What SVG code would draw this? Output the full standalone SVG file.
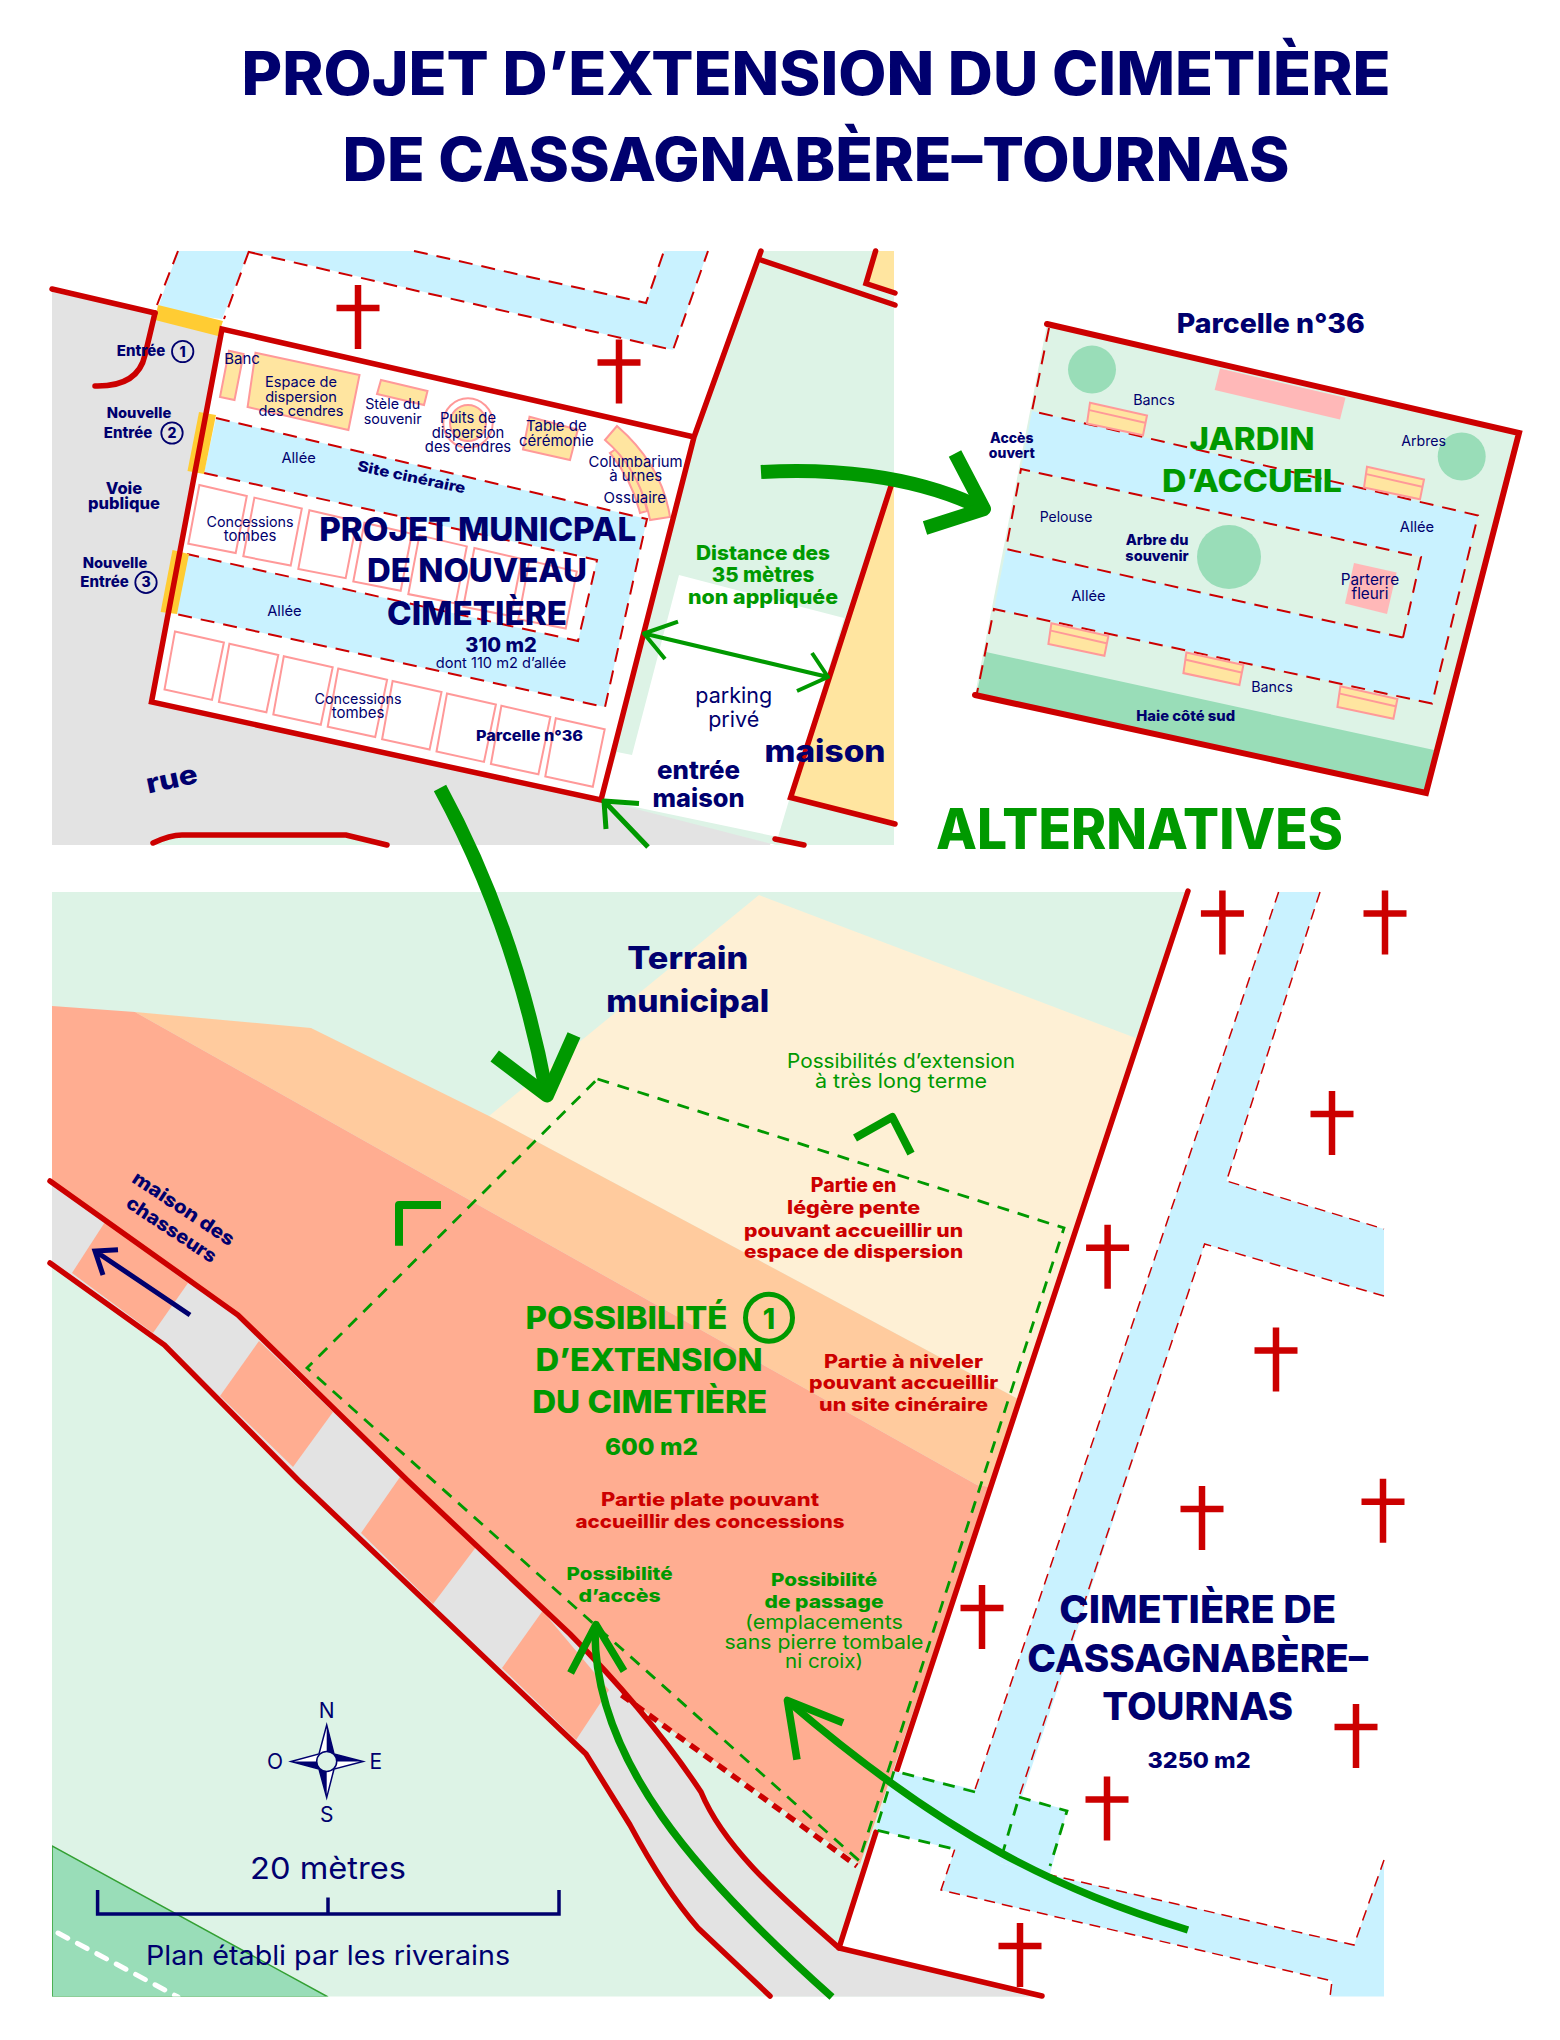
<svg xmlns="http://www.w3.org/2000/svg" xmlns:xlink="http://www.w3.org/1999/xlink" width="1560" height="2040" viewBox="0 0 1560 2040">
<style>
text{font-family:"Inter","Noto Sans",sans-serif;text-anchor:middle;fill:#00006e}
.b{font-weight:800}
.g{fill:#009900}
.r{fill:#cc0000}
.red{fill:none;stroke:#cc0000;stroke-width:5.5;stroke-linecap:round;stroke-linejoin:miter}
.dr{fill:none;stroke:#cc0000;stroke-width:2;stroke-dasharray:14 9}
.drt{fill:none;stroke:#cc0000;stroke-width:1.5;stroke-dasharray:11 7}
.dg{fill:none;stroke:#009900;stroke-width:2.8;stroke-dasharray:12 9}
.ar{fill:none;stroke:#009900;stroke-linejoin:round}
.box{fill:#ffffff;stroke:#ff9999;stroke-width:2}
.ye{fill:#ffe5a0;stroke:#ff9999;stroke-width:2}
.lg{fill:#ddf3e6}
.dk{fill:#99ddb8}
.bl{fill:#c9f2ff}
.gy{fill:#e3e3e3}
.en{fill:#ffcc33}
.pk{fill:#ffb8b8}
.cr{fill:none;stroke:#cc0000;stroke-width:6.5}
.nv{fill:none;stroke:#00006e}
</style>
<defs>
<path id="cross" class="cr" d="M0,-23V41M-21.500,0H21.500"/>
<polygon id="ct" class="box" points="199.400,485 246.800,496 235.700,553 188.300,543.700"/>
<polygon id="cb" class="box" points="175,631.400 223.900,642.500 212,699.900 164.500,689.600"/>
<g id="bench"><polygon class="ye" points="0,0 57,12.600 53,32.500 -3,20.600"/><path class="ye" d="M-.5,7.300L55,20"/></g>
<clipPath id="ct1"><rect x="52" y="251" width="842" height="594"/></clipPath>
<clipPath id="ct2"><rect x="52" y="892" width="1332" height="1104.500"/></clipPath>
</defs>

<g id="plan-haut-fonds" clip-path="url(#ct1)">
<polygon class="gy" points="52,292 157,314 222,327 601,800 773,838 770,845 52,845"/>
<polygon class="lg" points="761,251 894,251 894,845 776,845 601,800 694,437"/>
<polygon fill="#ffffff" points="679,575 844,618 790,797 778,837 602,800 617,752 632,755"/>
<polygon fill="#ffe5a0" points="894,483 894,825 790,797"/>
<polygon fill="#ffe5a0" points="875,251 894,251 894,293 866,283"/>
<polygon class="lg" points="151,845 182,836 346,836 387,845"/>
<polygon class="bl" points="178,251 249,251 222,319 157,311"/>
<polygon class="bl" points="249,251 414,251 646,303 664,251 708,251 673,350"/>
<polygon fill="#ffffff" points="222,329 694,437 601,800 151.500,702"/>
<polygon class="bl" points="216,418 647,519 605,707 176,614 187,554 578,641 597,560 204,473"/>
</g>

<g id="parcelle-36">
<use xlink:href="#ct"/><use xlink:href="#ct" x="55" y="12.600"/><use xlink:href="#ct" x="110" y="25.200"/><use xlink:href="#ct" x="165" y="37.800"/><use xlink:href="#ct" x="220" y="50.400"/><use xlink:href="#ct" x="275" y="63"/><use xlink:href="#ct" x="330" y="75.600"/>
<use xlink:href="#cb"/><use xlink:href="#cb" x="54.400" y="12.400"/><use xlink:href="#cb" x="108.800" y="24.800"/><use xlink:href="#cb" x="163.200" y="37.200"/><use xlink:href="#cb" x="217.600" y="49.600"/><use xlink:href="#cb" x="272" y="62"/><use xlink:href="#cb" x="326.400" y="74.400"/><use xlink:href="#cb" x="380.800" y="86.800"/>
<polygon class="ye" points="229,350.700 243.600,354 234.500,400 220,397"/>
<polygon class="ye" points="255.500,352.700 359.500,375 348.400,430 247.600,407"/>
<polygon class="ye" points="381,380 427.500,391 424,405 377,394"/>
<circle cx="468" cy="423" r="24.700" fill="#ffffff" stroke="#ff9999" stroke-width="2"/>
<circle cx="468" cy="423" r="18" class="ye"/>
<polygon class="ye" points="529.500,416.700 577.800,429.800 570,460 523,449.600"/>
<path class="ye" d="M616,449L610,453Q632,480 640,513L647,511Q640,475 616,449Z"/>
<path class="ye" d="M617,426Q662,465 670,517L650,520Q640,470 605,440Z"/>
</g>

<g id="traits-haut">
<path class="dr" d="M178,251L157,305M249,251L224,319M249,252L673,350L708,251M414,251L646,303L664,251"/>
<path class="dr" d="M216,418L647,519L605,707L176,614M204,473L597,560L578,641L187,554"/>
<polygon class="en" points="158,305 223,321 218,336 155,320"/>
<polygon class="en" points="199,412 216,415 204,474 187.500,471"/>
<polygon class="en" points="172.500,550 189,554 177,614 160.600,612"/>
<path class="red" d="M52,289L155,313M694,437L222,329L151.500,702L601,800L694,437L761,251"/>
<path class="red" d="M155,313L145,355Q138,387 95,386"/>
<path class="red" d="M761,260L895,305M875.600,251L866,283.500L895,293"/>
<path class="red" d="M891,486L790.600,797.500L895,824"/>
<path class="red" d="M153,843Q170,835 182,835H346L387,845M775,839L804,845"/>
<use xlink:href="#cross" x="358" y="308"/>
<use xlink:href="#cross" x="619" y="362.500"/>
</g>

<g id="jardin">
<polygon class="lg" points="1047,324 1519,433 1426,793 975,695"/>
<polygon class="bl" points="1032,411 1478,515.500 1432,703.600 994,609 1006,549 1403,637.600 1421,557 1021,469"/>
<polygon class="dk" points="986,652 1434,750 1426,791 976.600,693"/>
<circle class="dk" cx="1092" cy="369.600" r="24"/>
<circle class="dk" cx="1461.700" cy="456.500" r="24"/>
<circle class="dk" cx="1229" cy="557" r="32"/>
<polygon class="pk" points="1220,368.600 1345.500,397.800 1340,419.400 1214.600,390"/>
<polygon class="pk" points="1354,563 1396.600,572.600 1387,614 1345,603.400"/>
<path class="dr" d="M1049,328L1032,411L1478,515.500L1432,703.600L994,609L977,693M1403,637.600L1421,557L1021,469L1006,549L1403,637.600"/>
<use xlink:href="#bench" x="1090" y="402.800"/>
<use xlink:href="#bench" x="1367" y="466.800"/>
<use xlink:href="#bench" x="1051.400" y="623.300"/>
<use xlink:href="#bench" x="1186.400" y="652.500"/>
<use xlink:href="#bench" x="1340.400" y="686.300"/>
<path class="red" style="stroke-width:6" d="M1047,324L1519,433L1426,793L975,695"/>
</g>

<g id="plan-bas-fonds" clip-path="url(#ct2)">
<polygon class="lg" points="52,892 1188,892 839,1948 1042,1997 52,1997"/>
<polygon class="dk" stroke="#33a033" stroke-width="1.500" points="52,1846 328,1997 52,1997"/>
<path fill="none" stroke="#ffffff" stroke-width="5" stroke-dasharray="11 11" stroke-linecap="round" d="M58,1933L178,1997"/>
<polygon fill="#fef0d5" points="759,895 1135.700,1038 1020,1400 489,1116"/>
<polygon fill="#ffcb9e" points="135,1012 311,1028 489,1116 1020,1400 990,1487 977,1485"/>
<polygon fill="#ffad91" points="52,1006 135,1012 977,1485 990,1487 893,1771 860,1864 622,1695 581,1645 407,1480 238,1315 50,1180"/>
<path class="gy" d="M50,1181L238,1315L407,1480L570,1634Q650,1715 701,1792C725,1850 785,1900 839,1948L1042,1997H770L698,1928Q665,1890 630,1825L586,1754L298,1480L164.500,1345L50,1263Z"/>
<polygon fill="#ffad91" points="105,1222 188,1283 153,1333 72,1273"/>
<polygon fill="#ffad91" points="259,1341 333,1412 293,1467 220,1396"/>
<polygon fill="#ffad91" points="400,1477 476,1547 433,1604 361,1533"/>
<polygon fill="#ffad91" points="542.500,1611 609,1690 576,1740 502,1668"/>
<polygon class="bl" points="1278.600,892 1320,892 1226.500,1181 1384,1229 1384,1296 1204.600,1244 1000,1863 1046,1874 1354,1945 1384,1860 1384,1997 1330,1997 1332,1981 941,1890"/>
</g>

<g id="traits-bas">
<path class="drt" d="M1278.600,892L941,1890L1332,1981L1330,1997M1320,892L1226.500,1181L1384,1229M1384,1296L1204.600,1244L1019,1797M1046,1874L1354,1945L1384,1860"/>
<path class="red" d="M50,1181L238,1315L407,1480L570,1634Q650,1715 701,1792C725,1850 785,1900 839,1948L1042,1996"/>
<path class="red" d="M50,1263L164.500,1345L298,1480L586,1754L630,1825Q665,1890 698,1928L770,1996"/>
<path class="red" d="M1188,891L897,1770M876,1832L839,1948"/>
<polygon class="bl" points="893.800,1771 1067,1810.600 1050,1874 875.700,1829.600"/>
<path class="bl" d="M1000,1863L1019,1797L1060,1808L1045,1874Z"/>
<path fill="none" stroke="#cc0000" stroke-width="5.500" stroke-dasharray="10 7" d="M621.600,1695L857,1866"/>
<polygon class="dg" points="597.500,1079 1064,1228 859,1860.600 307,1368"/>
<path class="dg" d="M975,1792L894,1771L876,1830L958,1850M1019,1797L1067,1811L1050,1866M1017,1804L1000,1862"/>
<use xlink:href="#cross" x="1222.400" y="913.600"/>
<use xlink:href="#cross" x="1385" y="913.600"/>
<use xlink:href="#cross" x="1332" y="1114"/>
<use xlink:href="#cross" x="1107.600" y="1247.700"/>
<use xlink:href="#cross" x="1276" y="1350.500"/>
<use xlink:href="#cross" x="1202" y="1509"/>
<use xlink:href="#cross" x="1383" y="1501.700"/>
<use xlink:href="#cross" x="982" y="1608"/>
<use xlink:href="#cross" x="1356" y="1727"/>
<use xlink:href="#cross" x="1107" y="1799.600"/>
<use xlink:href="#cross" x="1020" y="1946"/>
</g>

<g id="fleches">
<path class="ar" stroke-width="14" d="M761,472C830,468 910,475 975,505"/>
<path class="ar" stroke-width="14" d="M955,453.500L984,509L925,528"/>
<path class="ar" stroke-width="4" d="M644,633.500L828,677M678,621.600L644,633.500L665,659M812,653L828,677L797,691"/>
<path class="ar" stroke-width="5" d="M648,847L604,801M639,803.500L604,801L606,829"/>
<path class="ar" stroke-width="14" d="M440,788C490,880 525,980 546,1090"/>
<path class="ar" stroke-width="14" d="M494.700,1056L547,1095.500L574,1035"/>
<path class="ar" stroke-width="8" stroke-linejoin="miter" d="M399,1245.700V1205H441"/>
<path class="ar" stroke-width="8" stroke-linejoin="miter" d="M855,1138L892.300,1117L911,1153.600"/>
<path class="ar" stroke-width="7.500" d="M832,1997C695,1875 595,1760 595,1632"/>
<path class="ar" stroke-width="7.500" d="M570.600,1672.900L596,1624.600L624,1671"/>
<path class="ar" stroke-width="7.500" d="M1188,1930C1060,1890 950,1840 790,1703"/>
<path class="ar" stroke-width="7.500" d="M843,1722.800L787.400,1700.400L797,1759.700"/>
<path class="nv" stroke-width="5" d="M190,1315L95,1251M118,1249.700L95,1251L103,1275"/>
</g>

<g id="boussole">
<path fill="#ffffff" stroke="#00006e" stroke-width="1.500" d="M326.700,1725L334,1754L363,1761.400L334,1769L326.700,1797.600L319,1769L291,1761.400L319,1754Z"/>
<path fill="#00006e" d="M326.700,1725L334,1754L326.700,1761.400ZM363,1761.400L334,1754L326.700,1761.400ZM326.700,1797.600L319,1769L326.700,1761.400ZM291,1761.400L319,1769L326.700,1761.400Z"/>
<circle cx="326.700" cy="1761.400" r="10" fill="#ddf3e6" stroke="#00006e" stroke-width="1.500"/>
<text x="326.700" y="1718.300" font-size="21">N</text>
<text x="326.700" y="1821.600" font-size="21">S</text>
<text x="275" y="1769.300" font-size="21">O</text>
<text x="375.700" y="1769.300" font-size="21">E</text>
</g>
<g id="echelle">
<path class="nv" stroke-width="3.500" d="M97.600,1890V1914H559V1890M328,1897.400V1914"/>
<text x="328" y="1878.500" font-size="30" textLength="156" lengthAdjust="spacingAndGlyphs">20 mètres</text>
<text x="328" y="1965" font-size="27" textLength="364" lengthAdjust="spacingAndGlyphs">Plan établi par les riverains</text>
</g>

<g id="titres">
<text class="b" x="816" y="95" font-size="60" textLength="1149" lengthAdjust="spacingAndGlyphs">PROJET D’EXTENSION DU CIMETIÈRE</text>
<text class="b" x="816" y="181" font-size="60" textLength="947" lengthAdjust="spacingAndGlyphs">DE CASSAGNABÈRE–TOURNAS</text>
<text class="b g" x="1139.500" y="849" font-size="56" textLength="407" lengthAdjust="spacingAndGlyphs">ALTERNATIVES</text>
</g>

<g id="textes-haut">
<text class="b" x="141" y="356" font-size="15">Entrée</text>
<circle class="nv" stroke-width="1.800" cx="182.700" cy="351.500" r="10.700"/>
<text class="b" x="182.700" y="356.500" font-size="14">1</text>
<text class="b" x="139" y="418" font-size="14.700">Nouvelle</text>
<text class="b" x="128" y="437.700" font-size="15">Entrée</text>
<circle class="nv" stroke-width="1.800" cx="172" cy="433" r="10.700"/>
<text class="b" x="172" y="438" font-size="14">2</text>
<text class="b" x="124" y="494" font-size="16.500">Voie</text>
<text class="b" x="124" y="509" font-size="16.500">publique</text>
<text class="b" x="115" y="568" font-size="14.700">Nouvelle</text>
<text class="b" x="104.500" y="587" font-size="15">Entrée</text>
<circle class="nv" stroke-width="1.800" cx="146" cy="582.400" r="10.700"/>
<text class="b" x="146" y="587.400" font-size="14">3</text>
<text x="242" y="364" font-size="15">Banc</text>
<text x="301" y="387" font-size="14.600">Espace de</text>
<text x="301" y="401.700" font-size="14.600">dispersion</text>
<text x="301" y="416" font-size="14.600">des cendres</text>
<text x="392.700" y="409" font-size="14.300">Stèle du</text>
<text x="392.700" y="424" font-size="14.300">souvenir</text>
<text x="468" y="423" font-size="14.800">Puits de</text>
<text x="468" y="437.700" font-size="14.800">dispersion</text>
<text x="468" y="452" font-size="14.800">des cendres</text>
<text x="556.400" y="431.400" font-size="15">Table de</text>
<text x="556.400" y="445.600" font-size="15">cérémonie</text>
<text x="635.600" y="466.600" font-size="15" textLength="94" lengthAdjust="spacingAndGlyphs">Columbarium</text>
<text x="635.600" y="481" font-size="15">à urnes</text>
<text x="634.800" y="503" font-size="15">Ossuaire</text>
<text x="298.600" y="463.400" font-size="14.700">Allée</text>
<text x="284.400" y="615.600" font-size="14.700">Allée</text>
<text class="b" transform="translate(410.500,482) rotate(12)" font-size="14.500" textLength="110" lengthAdjust="spacingAndGlyphs">Site cinéraire</text>
<text x="250" y="526.700" font-size="14.500" textLength="87" lengthAdjust="spacingAndGlyphs">Concessions</text>
<text x="250" y="541.300" font-size="15">tombes</text>
<text x="358" y="703.800" font-size="14.500" textLength="87" lengthAdjust="spacingAndGlyphs">Concessions</text>
<text x="358" y="718.400" font-size="15">tombes</text>
<text class="b" x="477.700" y="540.500" font-size="33" textLength="317" lengthAdjust="spacingAndGlyphs">PROJET MUNICPAL</text>
<text class="b" x="477" y="582" font-size="33" textLength="220" lengthAdjust="spacingAndGlyphs">DE NOUVEAU</text>
<text class="b" x="477" y="624.700" font-size="33" textLength="180" lengthAdjust="spacingAndGlyphs">CIMETIÈRE</text>
<text class="b" x="501" y="652" font-size="20">310 m2</text>
<text x="501" y="668" font-size="14.600">dont 110 m2 d’allée</text>
<text class="b" x="529.500" y="740.600" font-size="15" textLength="107" lengthAdjust="spacingAndGlyphs">Parcelle n°36</text>
<text class="b" transform="translate(173.600,788) rotate(-12)" font-size="27" textLength="52" lengthAdjust="spacingAndGlyphs">rue</text>
<text class="b g" x="763" y="559.500" font-size="20" textLength="134" lengthAdjust="spacingAndGlyphs">Distance des</text>
<text class="b g" x="763" y="582" font-size="20.500">35 mètres</text>
<text class="b g" x="763" y="604" font-size="20" textLength="150" lengthAdjust="spacingAndGlyphs">non appliquée</text>
<text x="733.700" y="703.400" font-size="21.500">parking</text>
<text x="733.700" y="727" font-size="21.500">privé</text>
<text class="b" x="698.500" y="778.500" font-size="25" textLength="83" lengthAdjust="spacingAndGlyphs">entrée</text>
<text class="b" x="698.500" y="806.600" font-size="25" textLength="92" lengthAdjust="spacingAndGlyphs">maison</text>
<text class="b" x="825" y="762" font-size="30" textLength="121" lengthAdjust="spacingAndGlyphs">maison</text>
</g>

<g id="textes-jardin">
<text class="b" x="1270.800" y="333" font-size="27" textLength="188" lengthAdjust="spacingAndGlyphs">Parcelle n°36</text>
<text x="1154" y="404.500" font-size="14.300">Bancs</text>
<text x="1423.600" y="446" font-size="14.200">Arbres</text>
<text class="b" x="1011.800" y="442.600" font-size="14">Accès</text>
<text class="b" x="1011.800" y="458" font-size="14">ouvert</text>
<text class="b g" x="1252" y="450" font-size="31" textLength="125" lengthAdjust="spacingAndGlyphs">JARDIN</text>
<text class="b g" x="1252" y="492" font-size="31" textLength="180" lengthAdjust="spacingAndGlyphs">D’ACCUEIL</text>
<text x="1417" y="531.500" font-size="14.700">Allée</text>
<text x="1066" y="521.500" font-size="14">Pelouse</text>
<text class="b" x="1157" y="545.400" font-size="14.500">Arbre du</text>
<text class="b" x="1157" y="561" font-size="14.500">souvenir</text>
<text x="1370" y="584.500" font-size="15.300">Parterre</text>
<text x="1370" y="598.800" font-size="15.300">fleuri</text>
<text x="1088.400" y="600.800" font-size="14.700">Allée</text>
<text x="1272" y="692" font-size="14.300">Bancs</text>
<text class="b" x="1185.700" y="720.500" font-size="14" textLength="99" lengthAdjust="spacingAndGlyphs">Haie côté sud</text>
</g>

<g id="textes-bas">
<text class="b" x="687.800" y="969" font-size="31" textLength="121" lengthAdjust="spacingAndGlyphs">Terrain</text>
<text class="b" x="687.800" y="1011.700" font-size="31" textLength="163" lengthAdjust="spacingAndGlyphs">municipal</text>
<text class="g" x="901" y="1067.800" font-size="20" textLength="228" lengthAdjust="spacingAndGlyphs">Possibilités d’extension</text>
<text class="g" x="901" y="1088.400" font-size="20" textLength="172" lengthAdjust="spacingAndGlyphs">à très long terme</text>
<text class="b r" x="853.600" y="1192.400" font-size="19.500">Partie en</text>
<text class="b r" x="853.600" y="1214" font-size="18.500" textLength="133" lengthAdjust="spacingAndGlyphs">légère pente</text>
<text class="b r" x="853.600" y="1236.600" font-size="18.500" textLength="219" lengthAdjust="spacingAndGlyphs">pouvant accueillir un</text>
<text class="b r" x="853.600" y="1258.400" font-size="18.500" textLength="219" lengthAdjust="spacingAndGlyphs">espace de dispersion</text>
<text class="b g" x="626.500" y="1328.800" font-size="31" textLength="202" lengthAdjust="spacingAndGlyphs">POSSIBILITÉ</text>
<circle fill="none" stroke="#009900" stroke-width="5" cx="769" cy="1317.700" r="23.500"/>
<text class="b g" x="769" y="1329" font-size="28">1</text>
<text class="b g" x="649" y="1371" font-size="31" textLength="227" lengthAdjust="spacingAndGlyphs">D’EXTENSION</text>
<text class="b g" x="649.700" y="1413.400" font-size="31" textLength="235" lengthAdjust="spacingAndGlyphs">DU CIMETIÈRE</text>
<text class="b g" x="651.500" y="1455.300" font-size="23" textLength="93" lengthAdjust="spacingAndGlyphs">600 m2</text>
<text class="b r" x="903.600" y="1367.500" font-size="18.500" textLength="159" lengthAdjust="spacingAndGlyphs">Partie à niveler</text>
<text class="b r" x="903.600" y="1389.300" font-size="18.500" textLength="189" lengthAdjust="spacingAndGlyphs">pouvant accueillir</text>
<text class="b r" x="903.600" y="1411" font-size="18.500" textLength="169" lengthAdjust="spacingAndGlyphs">un site cinéraire</text>
<text class="b r" x="710" y="1505.800" font-size="18.500" textLength="218" lengthAdjust="spacingAndGlyphs">Partie plate pouvant</text>
<text class="b r" x="710" y="1528" font-size="18.500" textLength="269" lengthAdjust="spacingAndGlyphs">accueillir des concessions</text>
<text class="b g" x="619.600" y="1580" font-size="18" textLength="106" lengthAdjust="spacingAndGlyphs">Possibilité</text>
<text class="b g" x="619.600" y="1601.600" font-size="18" textLength="82" lengthAdjust="spacingAndGlyphs">d’accès</text>
<text class="b g" x="824" y="1585.700" font-size="18" textLength="106" lengthAdjust="spacingAndGlyphs">Possibilité</text>
<text class="b g" x="824" y="1608" font-size="18" textLength="119" lengthAdjust="spacingAndGlyphs">de passage</text>
<text class="g" x="824" y="1628.800" font-size="19" textLength="158" lengthAdjust="spacingAndGlyphs">(emplacements</text>
<text class="g" x="824" y="1648.800" font-size="19" textLength="199" lengthAdjust="spacingAndGlyphs">sans pierre tombale</text>
<text class="g" x="824" y="1668.400" font-size="19" textLength="78" lengthAdjust="spacingAndGlyphs">ni croix)</text>
<text class="b" x="1197.700" y="1623" font-size="38" textLength="277" lengthAdjust="spacingAndGlyphs">CIMETIÈRE DE</text>
<text class="b" x="1197.700" y="1671.800" font-size="38" textLength="341" lengthAdjust="spacingAndGlyphs">CASSAGNABÈRE–</text>
<text class="b" x="1197.700" y="1720" font-size="38" textLength="191" lengthAdjust="spacingAndGlyphs">TOURNAS</text>
<text class="b" x="1199" y="1767.600" font-size="22" textLength="103" lengthAdjust="spacingAndGlyphs">3250 m2</text>
<text class="b" transform="translate(180,1214) rotate(33.500)" font-size="19" textLength="118" lengthAdjust="spacingAndGlyphs">maison des</text>
<text class="b" transform="translate(168,1235) rotate(33.500)" font-size="19" textLength="104" lengthAdjust="spacingAndGlyphs">chasseurs</text>
</g>
</svg>
